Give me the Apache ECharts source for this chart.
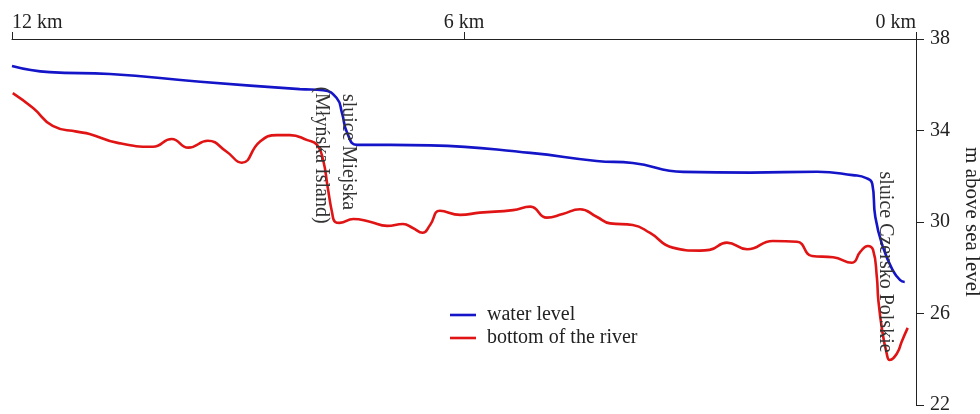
<!DOCTYPE html>
<html>
<head>
<meta charset="utf-8">
<title>River profile</title>
<script src="https://cdn.jsdelivr.net/npm/echarts@6/dist/echarts.min.js"></script>
<style>
  html, body { margin: 0; padding: 0; background: #fff; }
  #chart { width: 980px; height: 414px; }
</style>
</head>
<body>
<div id="chart"></div>
<script>
// Distance from the mouth (km) and elevation (m above sea level)
const waterLevel = [
  [12.0, 36.82], [11.5, 36.55], [10.7, 36.47], [9.5, 36.13], [8.18, 35.81],
  [7.87, 35.76], [7.69, 35.42], [7.62, 34.77], [7.55, 33.89], [7.42, 33.37],
  [6.98, 33.37], [6.45, 33.35], [5.12, 33.02], [4.24, 32.67], [3.76, 32.58],
  [3.09, 32.19], [2.2, 32.16], [1.31, 32.2], [0.84, 32.05], [0.66, 31.92],
  [0.58, 31.66], [0.54, 30.22], [0.44, 28.91], [0.31, 27.9], [0.21, 27.46],
  [0.15, 27.38]
];

const riverBottom = [
  [11.99, 35.63], [11.72, 34.98], [11.46, 34.2], [11.14, 33.95], [10.97, 33.85],
  [10.61, 33.47], [10.13, 33.29], [9.88, 33.63], [9.66, 33.25], [9.4, 33.55],
  [9.15, 33.07], [8.95, 32.59], [8.71, 33.51], [8.48, 33.8], [8.31, 33.8],
  [8.08, 33.58], [7.95, 33.37], [7.87, 32.71], [7.81, 31.53], [7.75, 30.39],
  [7.71, 30.0], [7.65, 29.96], [7.47, 30.13], [7.25, 30.01], [7.02, 29.83],
  [6.81, 29.91], [6.68, 29.74], [6.55, 29.53], [6.45, 29.87], [6.32, 30.49],
  [6.05, 30.31], [5.79, 30.41], [5.35, 30.52], [5.12, 30.67], [4.9, 30.19],
  [4.69, 30.35], [4.46, 30.56], [4.24, 30.23], [4.06, 29.94], [3.76, 29.87],
  [3.53, 29.52], [3.23, 28.88], [2.87, 28.75], [2.74, 28.78], [2.51, 29.1],
  [2.24, 28.81], [1.9, 29.17], [1.58, 29.14], [1.38, 28.51], [1.1, 28.46],
  [0.85, 28.22], [0.74, 28.69], [0.64, 28.95], [0.57, 28.78], [0.52, 27.6],
  [0.5, 26.59], [0.45, 25.28], [0.39, 24.27], [0.35, 23.97], [0.25, 24.27],
  [0.19, 24.77], [0.11, 25.37]
];

const seriesNames = ['water level', 'bottom of the river'];
const distanceTicks = [0, 6, 12];          // km
const elevationRange = [22, 38, 4];        // min, max, step (m)

// Vertical annotations: text and its centre in data coordinates
const notes = [
  { text: 'sluice Miejska', at: [7.53, 33.06] },
  { text: '(Młyńska Island)', at: [7.89, 32.93] },
  { text: 'sluice Czersko Polskie', at: [0.41, 28.25] }
];

const FONT = '"Liberation Serif", "Times New Roman", serif';
const INK = '#222';
const BLUE = '#1414c8';
const RED = '#e01414';

const chart = echarts.init(document.getElementById('chart'), null, { renderer: 'canvas' });

chart.setOption({
  backgroundColor: '#fff',
  animation: false,
  grid: { left: 12, right: 64, top: 39, bottom: 9, containLabel: false, outerBoundsMode: 'none' },
  legend: {
    data: seriesNames,
    orient: 'vertical',
    left: 450,
    top: 305,
    padding: 0,
    icon: 'rect',
    itemWidth: 26,
    itemHeight: 2.6,
    itemGap: 3,
    textStyle: { fontFamily: FONT, fontSize: 20, color: INK, lineHeight: 20, padding: [0, 0, 0, 6] }
  },
  xAxis: {
    type: 'value',
    position: 'top',
    inverse: true,
    min: distanceTicks[0],
    max: distanceTicks[distanceTicks.length - 1],
    interval: distanceTicks[1] - distanceTicks[0],
    splitLine: { show: false },
    axisLine: { show: true, lineStyle: { color: INK, width: 1 } },
    axisTick: { show: true, length: 7, lineStyle: { color: INK } },
    axisLabel: {
      formatter: '{value} km',
      fontFamily: FONT,
      fontSize: 20,
      color: INK,
      margin: 6,
      alignMinLabel: 'right',
      alignMaxLabel: 'left'
    }
  },
  yAxis: {
    type: 'value',
    position: 'right',
    min: elevationRange[0],
    max: elevationRange[1],
    interval: elevationRange[2],
    name: 'm above sea level',
    nameLocation: 'middle',
    nameRotate: -90,
    nameGap: 42,
    nameTextStyle: { fontFamily: FONT, fontSize: 21, color: INK },
    splitLine: { show: false },
    axisLine: { show: true, lineStyle: { color: INK, width: 1 } },
    axisTick: { show: true, length: 8, lineStyle: { color: INK } },
    axisLabel: { fontFamily: FONT, fontSize: 20, color: INK, margin: 14 }
  },
  series: [
    {
      name: seriesNames[0],
      type: 'line',
      data: waterLevel,
      symbol: 'none',
      smooth: 0.5,
      lineStyle: { color: BLUE, width: 2.6 },
      itemStyle: { color: BLUE },
      z: 3
    },
    {
      name: seriesNames[1],
      type: 'line',
      data: riverBottom,
      symbol: 'none',
      smooth: 0.5,
      lineStyle: { color: RED, width: 2.6 },
      itemStyle: { color: RED },
      z: 2
    }
  ]
});

// Place the rotated annotation texts at their data positions
chart.setOption({
  graphic: notes.map(n => {
    const p = chart.convertToPixel({ gridIndex: 0 }, n.at);
    return {
      type: 'text',
      x: p[0],
      y: p[1],
      rotation: -Math.PI / 2,
      z: 10,
      style: {
        text: n.text,
        fontFamily: FONT,
        fontSize: 20,
        fill: '#333',
        align: 'center',
        verticalAlign: 'middle'
      }
    };
  })
});
</script>
</body>
</html>
